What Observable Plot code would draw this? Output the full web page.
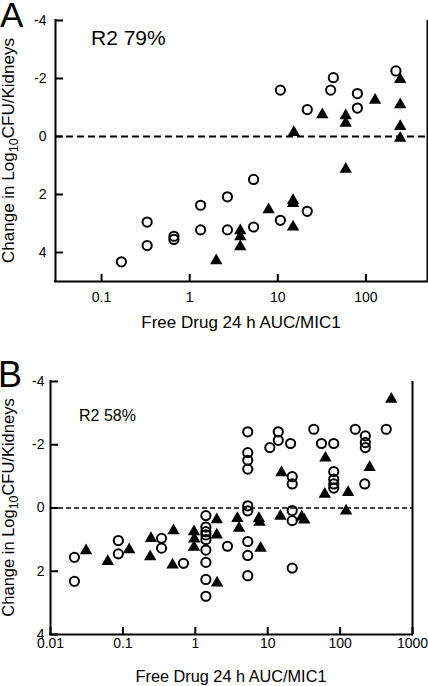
<!DOCTYPE html>
<html><head><meta charset="utf-8">
<script src="https://cdn.jsdelivr.net/npm/d3@7"></script>
<script src="https://cdn.jsdelivr.net/npm/@observablehq/plot@0.6"></script>
<style>
body{margin:0;background:#fff;}
#wrap{width:428px;height:686px;overflow:hidden;background:#fff;}
#wrap svg{display:block;font-family:'Liberation Sans', Arial, Helvetica, sans-serif;font-size:14px;color:#000;}
</style></head><body><div id="wrap"></div>
<script>
// ---------- Panel A data ----------
const aCircleX = [10.7, 21.6, 42.7, 39.8, 80, 80, 219, 0.168, 0.329, 0.329, 0.662, 0.662, 1.33, 1.33, 2.68, 2.68, 5.31, 5.31, 10.7, 21.6];
const aCircleY = [-1.60, -0.93, -2.03, -1.60, -1.48, -0.98, -2.26, 4.32, 2.95, 3.76, 3.44, 3.55, 2.37, 3.22, 2.08, 3.22, 1.48, 3.12, 2.89, 2.58];
const aTriX = [15.2, 32, 59, 59, 127, 245, 245, 245, 245, 59, 2.0, 3.75, 3.75, 3.75, 7.87, 14.9, 14.9, 14.9];
const aTriY = [-0.14, -0.75, -0.72, -0.46, -1.25, -1.97, -1.10, -0.35, 0.06, 1.13, 4.28, 3.25, 3.45, 3.8, 2.52, 2.2, 2.31, 3.12];
const aXTicks = [0.1, 1, 10, 100];
const aXDomain = [0.03, 500];
const aYDomain = [5, -4];
const aR2 = "R2 79%";

// ---------- Panel B data ----------
const bCircleX = [5.3, 5.3, 5.3, 5.3, 5.3, 5.3, 5.3, 5.3, 5.3,
  14, 14, 10.7, 20.7, 21.8, 21.8, 21.8, 21.8, 21.8, 43.3, 55.3,
  81.7, 81.7, 81.7, 81.7, 81.7, 162, 223, 223, 223, 219, 434,
  0.0214, 0.0214, 0.0865, 0.0865, 0.342, 0.342, 0.687,
  1.40, 1.40, 1.40, 1.40, 1.40, 1.40, 1.40, 1.40, 1.40, 2.78];
const bCircleY = [-2.41, -1.75, -1.51, -1.23, -0.07, 0.09, 1.06, 1.5, 2.14,
  -2.41, -2.14, -1.91, -2.04, -0.99, -0.76, 0.08, 0.4, 1.9, -2.49, -2.04,
  -2.04, -1.15, -0.91, -0.76, -0.63, -2.49, -2.28, -2.07, -1.91, -0.76, -2.49,
  1.56, 2.32, 1.03, 1.45, 0.96, 1.27, 1.75,
  0.24, 0.6, 0.75, 0.85, 1.0, 1.33, 1.72, 2.26, 2.79, 1.21];
const bTriX = [509, 62.7, 15.5, 256, 61.4, 129, 121,
  3.81, 4.02, 7.57, 7.7, 7.98, 15, 29.5, 32,
  0.031, 0.0618, 0.122, 0.244, 0.238, 0.5, 0.485, 0.96, 0.97, 0.96, 1.98, 1.98, 2.0];
const bTriY = [-3.44, -1.58, -1.12, -1.28, -0.44, -0.49, 0.09,
  0.33, 0.64, 0.33, 0.45, 1.27, 0.26, 0.28, 0.38,
  1.35, 1.69, 1.32, 0.96, 1.54, 0.72, 1.8, 0.75, 0.98, 1.24, 0.37, 0.85, 2.37];
const bXTicks = [0.01, 0.1, 1, 10, 100, 1000];
const bXDomain = [0.01, 1000];
const bYDomain = [4, -4];
const bR2 = "R2 58%";

// ---------- shared ----------
const yTicks = [-4, -2, 0, 2, 4];
const xLabel = "Free Drug 24 h AUC/MIC1";
const yLabelPre = "Change in Log";
const yLabelSub = "10";
const yLabelPost = "CFU/Kidneys";
const FONT = "'Liberation Sans', Arial, Helvetica, sans-serif";

function pairs(xs, ys) { return xs.map((x, i) => ({x, y: ys[i]})); }

function panel(o) {
  const W = 428;
  const pw = W - o.ml - o.mr, ph = o.height - o.mt - o.mb;
  const circles = pairs(o.cx, o.cy);
  const tris = pairs(o.tx, o.ty);
  const svg = Plot.plot({
    width: W, height: o.height,
    marginLeft: o.ml, marginRight: o.mr, marginTop: o.mt, marginBottom: o.mb,
    x: {type: "log", domain: o.xDomain, axis: null},
    y: {domain: o.yDomain, axis: null},
    marks: [
      Plot.ruleY([0], {stroke: "black", strokeWidth: o.dashW, strokeDasharray: o.dash}),
      Plot.dot(circles, {x: "x", y: "y", r: 4.6, stroke: "black", strokeWidth: 2, fill: "none"}),
      Plot.dot(tris, {x: "x", y: "y", symbol: "triangle", r: 4.6, fill: "black", stroke: "none"}),
      // inward tick marks
      Plot.tickY(yTicks, {y: d => d, stroke: "black", strokeWidth: 2, insetRight: pw - 8}),
      Plot.tickX(o.xTicks, {x: d => d, stroke: "black", strokeWidth: 2, insetTop: ph - 7}),
      // frame lines
      Plot.ruleX([o.xDomain[0]], {stroke: "black", strokeWidth: 2, strokeLinecap: "square"}),
      Plot.ruleX([o.xDomain[1]], {stroke: "black", strokeWidth: 2}),
      Plot.ruleY([o.yDomain[0]], {stroke: "black", strokeWidth: 2, strokeLinecap: "square"}),
      // tick labels
      Plot.text(yTicks, {y: d => d, text: d => String(d), frameAnchor: "left", textAnchor: "end", dx: -o.yPad, fontSize: 14, fill: "black"}),
      Plot.text(o.xTicks, {x: d => d, text: d => String(d), frameAnchor: "bottom", lineAnchor: "top", dy: o.xPad, fontSize: 14, fill: "black"})
    ]
  });
  const s = d3.select(svg);
  s.append("text").attr("x", o.letterX).attr("y", o.letterY).attr("font-size", o.letterSize)
    .attr("text-anchor", "start").attr("font-family", FONT).attr("fill", "black").text(o.letter);
  s.append("text").attr("x", o.r2x).attr("y", o.r2y).attr("font-size", o.r2Size)
    .attr("text-anchor", "start").attr("font-family", FONT).attr("fill", "black").text(o.r2);
  s.append("text").attr("x", o.xlx).attr("y", o.xly).attr("font-size", o.xlSize)
    .attr("text-anchor", "middle").attr("font-family", FONT).attr("fill", "black").text(xLabel);
  const yl = s.append("text").attr("transform", `translate(${o.ylx},${o.yly}) rotate(-90)`)
    .attr("font-size", o.ylSize).attr("text-anchor", "middle").attr("font-family", FONT).attr("fill", "black");
  yl.append("tspan").text(yLabelPre);
  yl.append("tspan").attr("dy", 4).attr("font-size", o.ylSize * 0.75).text(yLabelSub);
  yl.append("tspan").attr("dy", -4).text(yLabelPost);
  return svg;
}

const wrap = document.getElementById("wrap");
wrap.append(panel({
  cx: aCircleX, cy: aCircleY, tx: aTriX, ty: aTriY,
  xDomain: aXDomain, yDomain: aYDomain, xTicks: aXTicks,
  height: 340, ml: 55, mr: 1, mt: 20, mb: 59, yPad: 9, xPad: 11,
  dash: "7,4", dashW: 2,
  letter: "A", letterX: 0, letterY: 27, letterSize: 35,
  r2: aR2, r2x: 91, r2y: 45, r2Size: 21,
  xlx: 241, xly: 328, xlSize: 17,
  ylx: 14, yly: 150.5, ylSize: 17
}));
wrap.append(panel({
  cx: bCircleX, cy: bCircleY, tx: bTriX, ty: bTriY,
  xDomain: bXDomain, yDomain: bYDomain, xTicks: bXTicks,
  height: 346, ml: 50, mr: 16, mt: 41, mb: 52, yPad: 6, xPad: 4,
  dash: "5,3", dashW: 1.5,
  letter: "B", letterX: -2, letterY: 47, letterSize: 36,
  r2: bR2, r2x: 79, r2y: 80.7, r2Size: 16,
  xlx: 231, xly: 341.5, xlSize: 16.3,
  ylx: 14, yly: 167.5, ylSize: 16.5
}));
</script></body></html>
